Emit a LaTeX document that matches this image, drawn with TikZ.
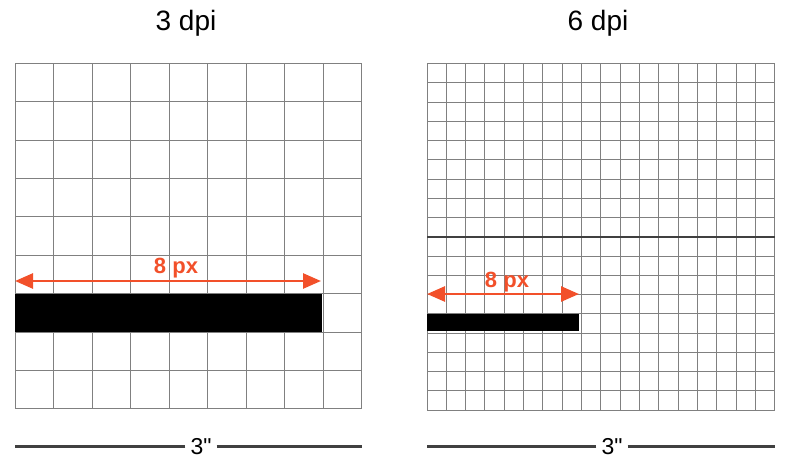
\documentclass[tikz,border=0pt]{standalone}
\usepackage{fontspec}
\setmainfont{Liberation Sans}
\usetikzlibrary{arrows.meta, positioning}
\definecolor{measurered}{HTML}{F2502A}

\begin{document}
\begin{tikzpicture}[
        x = 1pt, y = -1pt,
        grid line/.style = {draw = black!50, line width = 1pt},
        mid line/.style = {draw = black!75, line width = 1.5pt},
        pixel bar/.style = {fill = black},
        >= {Triangle[width = 15pt, length = 18pt]},
        measure/.style = {draw = measurered, line width = 2.6pt, <->},
        measure text/.style = {text = measurered, font = \fontsize{22}{26}\selectfont\bfseries, inner sep = 0pt},
        title/.style = {font = \fontsize{28}{32}\selectfont},
        dim line/.style = {draw = black!75, line width = 2.6pt},
        dim text/.style = {font = \fontsize{23}{26}\selectfont, inner sep = 1pt}
    ]

      \useasboundingbox (0,0) rectangle (790,467);

      % titles
      \node[title] (t3) at (186,23) {3 dpi};
      \node[title] (t6) at (598,23) {6 dpi};

      % 3 dpi grid, 9 x 9
      \foreach \i in {0,...,9} {
          \draw[grid line] ({15+\i*38.5},63.3) -- ({15+\i*38.5},409);
          \draw[grid line] (15,{63.3+\i*38.41}) -- (361.5,{63.3+\i*38.41});
      }
      \fill[pixel bar] (15,294) rectangle (322,332);

      % 6 dpi grid, 18 x 18
      \foreach \i in {0,...,18} {
          \draw[grid line] ({427+\i*19.33},63.5) -- ({427+\i*19.33},410);
          \draw[grid line] (427,{63.5+\i*19.25}) -- (775,{63.5+\i*19.25});
      }
      \draw[mid line] (427,236.75) -- (775,236.75);
      \fill[pixel bar] (427,313.5) rectangle (579,331);

      % 8 px arrows
      \coordinate (a3l) at (15,281);
      \coordinate (a3r) at (321,281);
      \draw[measure] (a3l) -- (a3r);
      \node[measure text] (m3) at (176,268) {8 px};

      \coordinate (a6l) at (427,294);
      \coordinate (a6r) at (579,294);
      \draw[measure] (a6l) -- (a6r);
      \node[measure text] (m6) at (507,282) {8 px};

      % 3 inch rulers
      \node[dim text] (d3) at (201,447) {3\textquotedbl};
      \coordinate (d3l) at (15,446.5);
      \coordinate (d3r) at (362,446.5);
      \draw[dim line] (d3l -| d3.west) ++(-4,0) -- (d3l);
      \draw[dim line] (d3l -| d3.east) ++(4,0) -- (d3r);

      \node[dim text] (d6) at (612,447) {3\textquotedbl};
      \coordinate (d6l) at (427,446.5);
      \coordinate (d6r) at (775,446.5);
      \draw[dim line] (d6l -| d6.west) ++(-4,0) -- (d6l);
      \draw[dim line] (d6l -| d6.east) ++(4,0) -- (d6r);

    \end{tikzpicture}
\end{document}
